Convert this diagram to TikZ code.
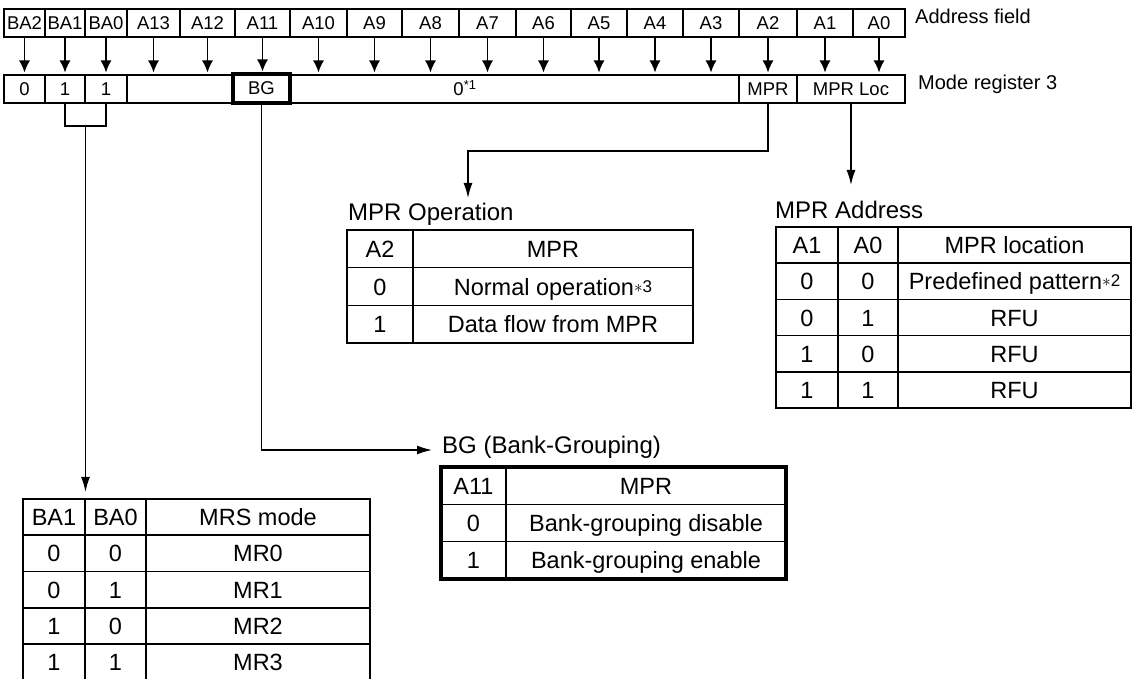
\documentclass[tikz,border=0pt]{standalone}
\usepackage{fontspec}
\setmainfont{Liberation Sans}
\usetikzlibrary{arrows.meta,fit}
\tikzset{
  fcell/.style={draw, line width=1.4pt, inner sep=0pt, outer sep=0pt, minimum height=28pt, text height=13pt, text depth=0pt, font=\fontsize{18.5}{20}\selectfont},
  ftext/.style={inner sep=0pt, text height=13pt, text depth=0pt, font=\fontsize{18.5}{20}\selectfont},
  tcell/.style={draw, line width=1.5pt, inner sep=0pt, outer sep=0pt, text height=17pt, text depth=0pt, font=\fontsize{23.5}{26}\selectfont},
  ttitle/.style={anchor=west, inner sep=0pt, text height=17pt, text depth=0pt, font=\fontsize{24}{26}\selectfont},
  rlabel/.style={anchor=west, inner sep=0pt, text height=14pt, text depth=0pt, font=\fontsize{20}{22}\selectfont},
  bgbox/.style={draw, line width=3.8pt, inner sep=0pt, outer sep=0pt},
  rline/.style={line width=1.4pt},
  rarrow/.style={-{Latex[length=12pt,width=11pt]}, line width=1.4pt, shorten >=2.5pt},
  larrow/.style={-{Latex[length=15pt,width=9pt]}, line width=1.4pt}
}
\newcommand{\fnmark}[1]{{\fontsize{17}{17}\selectfont\raisebox{3pt}{$\ast$#1}}}

\begin{document}
\begin{tikzpicture}[x=1pt,y=-1pt]
\fill[white] (0,0) rectangle (1132,679);
\useasboundingbox (0,0) rectangle (1132,679);
% address field
\node[fcell, minimum width=41pt] (ba2) at (24.5,23) {BA2};
\node[fcell, minimum width=40pt] (ba1) at (65,23) {BA1};
\node[fcell, minimum width=42pt] (ba0) at (106,23) {BA0};
\node[fcell, minimum width=53pt] (a13) at (153.5,23) {A13};
\node[fcell, minimum width=55pt] (a12) at (207.5,23) {A12};
\node[fcell, minimum width=55pt] (a11) at (262.5,23) {A11};
\node[fcell, minimum width=57pt] (a10) at (318.5,23) {A10};
\node[fcell, minimum width=55pt] (a9) at (374.5,23) {A9};
\node[fcell, minimum width=57pt] (a8) at (430.5,23) {A8};
\node[fcell, minimum width=57pt] (a7) at (487.5,23) {A7};
\node[fcell, minimum width=55pt] (a6) at (543.5,23) {A6};
\node[fcell, minimum width=56pt] (a5) at (599,23) {A5};
\node[fcell, minimum width=56pt] (a4) at (655,23) {A4};
\node[fcell, minimum width=56pt] (a3) at (711,23) {A3};
\node[fcell, minimum width=58pt] (a2) at (768,23) {A2};
\node[fcell, minimum width=56pt] (a1) at (825,23) {A1};
\node[fcell, minimum width=52pt] (a0) at (879,23) {A0};
\node[rlabel] (addrlbl) at (915,17) {Address field};
% mode register 3
\node[fcell, minimum width=41pt] (m0) at (24.5,89) {0};
\node[fcell, minimum width=40pt] (m1) at (65,89) {1};
\node[fcell, minimum width=42pt] (m2) at (106,89) {1};
\node[fcell, minimum width=106pt] (mblank) at (180,89) {};
\node[fcell, minimum width=449pt] (mzero) at (514.5,89) {};
\node[ftext] (zerotxt) at (465,89) {0\textsuperscript{*1}};
\node[fcell, minimum width=58pt] (mmpr) at (768,89) {MPR};
\node[fcell, minimum width=108pt] (mloc) at (851,89) {MPR Loc};
\node[fcell, bgbox, minimum width=57pt, minimum height=29pt] (mbg) at (261.5,88.5) {BG};
\node[rlabel] (modelbl) at (918,83) {Mode register 3};
\draw[rarrow] (ba2.south) -- (ba2.south |- m0.north);
\draw[rarrow] (ba1.south) -- (ba1.south |- m1.north);
\draw[rarrow] (ba0.south) -- (ba0.south |- m2.north);
\draw[rarrow] (a13.south) -- (a13.south |- mblank.north);
\draw[rarrow] (a12.south) -- (a12.south |- mblank.north);
\draw[rarrow] (a11.south) -- (a11.south |- mbg.north);
\draw[rarrow] (a10.south) -- (a10.south |- mzero.north);
\draw[rarrow] (a9.south) -- (a9.south |- mzero.north);
\draw[rarrow] (a8.south) -- (a8.south |- mzero.north);
\draw[rarrow] (a7.south) -- (a7.south |- mzero.north);
\draw[rarrow] (a6.south) -- (a6.south |- mzero.north);
\draw[rarrow] (a5.south) -- (a5.south |- mzero.north);
\draw[rarrow] (a4.south) -- (a4.south |- mzero.north);
\draw[rarrow] (a3.south) -- (a3.south |- mzero.north);
\draw[rarrow] (a2.south) -- (a2.south |- mmpr.north);
\draw[rarrow] (a1.south) -- (a1.south |- mloc.north);
\draw[rarrow] (a0.south) -- (a0.south |- mloc.north);
% MPR operation
\node[ttitle] (optitle) at (348,212) {MPR Operation};
\node[tcell, minimum width=66pt, minimum height=37.67pt] (op01) at (380,248.8) {A2};
\node[tcell, minimum width=280pt, minimum height=37.67pt] (op02) at (553,248.8) {MPR};
\node[tcell, minimum width=66pt, minimum height=37.67pt] (op11) at (380,286.5) {0};
\node[tcell, minimum width=280pt, minimum height=37.67pt] (op12) at (553,286.5) {Normal operation\fnmark{3}};
\node[tcell, minimum width=66pt, minimum height=37.67pt] (op21) at (380,324.2) {1};
\node[tcell, minimum width=280pt, minimum height=37.67pt] (op22) at (553,324.2) {Data flow from MPR};
% MPR address
\node[ttitle] (adtitle) at (775,210) {MPR Address};
\node[tcell, minimum width=62pt, minimum height=36.2pt] (ad01) at (807,245.1) {A1};
\node[tcell, minimum width=60pt, minimum height=36.2pt] (ad02) at (868,245.1) {A0};
\node[tcell, minimum width=233pt, minimum height=36.2pt] (ad03) at (1014.5,245.1) {MPR location};
\node[tcell, minimum width=62pt, minimum height=36.2pt] (ad11) at (807,281.3) {0};
\node[tcell, minimum width=60pt, minimum height=36.2pt] (ad12) at (868,281.3) {0};
\node[tcell, minimum width=233pt, minimum height=36.2pt] (ad13) at (1014.5,281.3) {Predefined pattern\fnmark{2}};
\node[tcell, minimum width=62pt, minimum height=36.2pt] (ad21) at (807,317.5) {0};
\node[tcell, minimum width=60pt, minimum height=36.2pt] (ad22) at (868,317.5) {1};
\node[tcell, minimum width=233pt, minimum height=36.2pt] (ad23) at (1014.5,317.5) {RFU};
\node[tcell, minimum width=62pt, minimum height=36.2pt] (ad31) at (807,353.7) {1};
\node[tcell, minimum width=60pt, minimum height=36.2pt] (ad32) at (868,353.7) {0};
\node[tcell, minimum width=233pt, minimum height=36.2pt] (ad33) at (1014.5,353.7) {RFU};
\node[tcell, minimum width=62pt, minimum height=36.2pt] (ad41) at (807,389.9) {1};
\node[tcell, minimum width=60pt, minimum height=36.2pt] (ad42) at (868,389.9) {1};
\node[tcell, minimum width=233pt, minimum height=36.2pt] (ad43) at (1014.5,389.9) {RFU};
% BG (bank grouping)
\node[ttitle] (bgtitle) at (442,445) {BG (Bank-Grouping)};
\node[tcell, minimum width=65pt, minimum height=37.33pt] (bg01) at (473.5,485.7) {A11};
\node[tcell, minimum width=280pt, minimum height=37.33pt] (bg02) at (646,485.7) {MPR};
\node[tcell, minimum width=65pt, minimum height=37.33pt] (bg11) at (473.5,523) {0};
\node[tcell, minimum width=280pt, minimum height=37.33pt] (bg12) at (646,523) {Bank-grouping disable};
\node[tcell, minimum width=65pt, minimum height=37.33pt] (bg21) at (473.5,560.3) {1};
\node[tcell, minimum width=280pt, minimum height=37.33pt] (bg22) at (646,560.3) {Bank-grouping enable};
\node[bgbox, fit=(bg01)(bg22)] (bgframe) {};
% MRS mode
\node[tcell, minimum width=62pt, minimum height=36.25pt] (mrs01) at (54,517.1) {BA1};
\node[tcell, minimum width=61pt, minimum height=36.25pt] (mrs02) at (115.5,517.1) {BA0};
\node[tcell, minimum width=224pt, minimum height=36.25pt] (mrs03) at (258,517.1) {MRS mode};
\node[tcell, minimum width=62pt, minimum height=36.25pt] (mrs11) at (54,553.4) {0};
\node[tcell, minimum width=61pt, minimum height=36.25pt] (mrs12) at (115.5,553.4) {0};
\node[tcell, minimum width=224pt, minimum height=36.25pt] (mrs13) at (258,553.4) {MR0};
\node[tcell, minimum width=62pt, minimum height=36.25pt] (mrs21) at (54,589.6) {0};
\node[tcell, minimum width=61pt, minimum height=36.25pt] (mrs22) at (115.5,589.6) {1};
\node[tcell, minimum width=224pt, minimum height=36.25pt] (mrs23) at (258,589.6) {MR1};
\node[tcell, minimum width=62pt, minimum height=36.25pt] (mrs31) at (54,625.9) {1};
\node[tcell, minimum width=61pt, minimum height=36.25pt] (mrs32) at (115.5,625.9) {0};
\node[tcell, minimum width=224pt, minimum height=36.25pt] (mrs33) at (258,625.9) {MR2};
\node[tcell, minimum width=62pt, minimum height=36.25pt] (mrs41) at (54,662.1) {1};
\node[tcell, minimum width=61pt, minimum height=36.25pt] (mrs42) at (115.5,662.1) {1};
\node[tcell, minimum width=224pt, minimum height=36.25pt] (mrs43) at (258,662.1) {MR3};
% connectors
\coordinate (brk) at (85.5,126);
\coordinate (bgend) at (432,450);
\coordinate (opend) at (468,198);
\coordinate (adend) at (851,185);
\draw[rline] (m1.south) -- ++(0,23) -| (m2.south);
\draw[larrow, shorten >=7pt] (brk) -- (brk |- mrs01.north);
\draw[larrow] (mbg.south) |- (bgend);
\draw[larrow] (mmpr.south) -- ++(0,48) -| (opend);
\draw[larrow] (mloc.south) -- (adend);
\end{tikzpicture}
\end{document}
